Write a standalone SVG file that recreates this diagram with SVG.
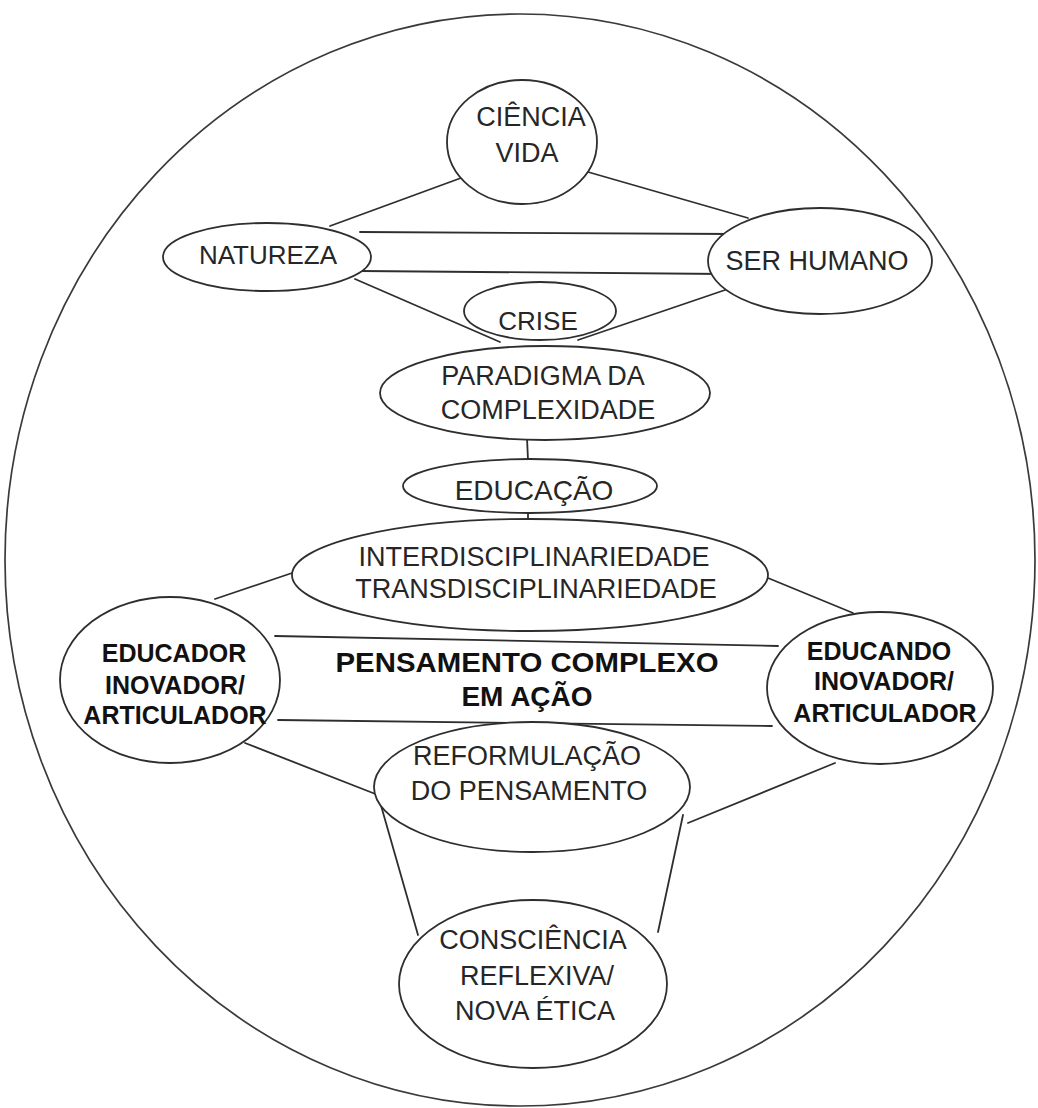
<svg xmlns="http://www.w3.org/2000/svg" width="1038" height="1108" viewBox="0 0 1038 1108">
  <style>
    .frame { fill: #ffffff; stroke: #3a3a3a; stroke-width: 1.7; }
    .node ellipse { fill: #ffffff; stroke: #2e2e2e; stroke-width: 1.8; }
    .edges line { stroke: #2e2e2e; stroke-width: 1.8; stroke-linecap: round; }
    .lbl { font-family: "Liberation Sans", Arial, sans-serif; font-size: 27px; fill: #262626; text-anchor: middle; }
    .bold { font-family: "Liberation Sans", Arial, sans-serif; font-weight: bold; fill: #111111; text-anchor: middle; }
  </style>

  <rect width="1038" height="1108" fill="#ffffff"/>

  <!-- outer boundary -->
  <ellipse class="frame" cx="520" cy="560" rx="515" ry="546"/>

  <!-- connectors -->
  <g id="connectors" class="edges">
    <line x1="461" y1="178" x2="330" y2="226"/>
    <line x1="588" y1="172" x2="748" y2="218"/>
    <line x1="360" y1="232" x2="735" y2="234"/>
    <line x1="360" y1="271" x2="725" y2="274"/>
    <line x1="355" y1="279" x2="500" y2="342"/>
    <line x1="728" y1="289" x2="578" y2="340"/>
    <line x1="527" y1="438" x2="528" y2="460"/>
    <line x1="528" y1="512" x2="528" y2="522"/>
    <line x1="295" y1="572" x2="215" y2="599"/>
    <line x1="768" y1="578" x2="853" y2="613"/>
    <line x1="275" y1="636" x2="778" y2="646"/>
    <line x1="278" y1="720" x2="772" y2="726"/>
    <line x1="245" y1="743" x2="378" y2="795"/>
    <line x1="835" y1="763" x2="688" y2="823"/>
    <line x1="378" y1="795" x2="418" y2="935"/>
    <line x1="683" y1="815" x2="658" y2="932"/>
  </g>

  <g id="ciencia-vida" class="node">
    <ellipse cx="522" cy="142" rx="75" ry="62"/>
    <text class="lbl" font-size="26" x="531" y="126">CIÊNCIA</text>
    <text class="lbl" font-size="26" x="527" y="162">VIDA</text>
  </g>

  <g id="natureza" class="node">
    <ellipse cx="267" cy="257" rx="104" ry="34"/>
    <text class="lbl" style="font-size:26px" x="268" y="264">NATUREZA</text>
  </g>

  <g id="ser-humano" class="node">
    <ellipse cx="820" cy="261" rx="112" ry="53"/>
    <text class="lbl" x="817" y="270">SER HUMANO</text>
  </g>

  <g id="crise" class="node">
    <ellipse cx="540" cy="311" rx="76" ry="29"/>
    <text class="lbl" style="font-size:26px" x="538" y="330">CRISE</text>
  </g>

  <g id="paradigma" class="node">
    <ellipse cx="545" cy="393" rx="165" ry="47"/>
    <text class="lbl" x="543" y="385">PARADIGMA DA</text>
    <text class="lbl" x="548" y="419">COMPLEXIDADE</text>
  </g>

  <g id="educacao" class="node">
    <ellipse cx="530" cy="486" rx="127" ry="27"/>
    <text class="lbl" style="font-size:28px" x="534" y="500">EDUCAÇÃO</text>
  </g>

  <g id="inter-trans" class="node">
    <ellipse cx="530" cy="575" rx="238" ry="56"/>
    <text class="lbl" x="534" y="566">INTERDISCIPLINARIEDADE</text>
    <text class="lbl" x="536" y="598">TRANSDISCIPLINARIEDADE</text>
  </g>

  <g id="educador" class="node">
    <ellipse cx="170" cy="680" rx="110" ry="83"/>
    <text class="bold" font-size="25" x="174" y="662">EDUCADOR</text>
    <text class="bold" font-size="25" x="175" y="694">INOVADOR/</text>
    <text class="bold" font-size="25" x="175" y="724">ARTICULADOR</text>
  </g>

  <g id="educando" class="node">
    <ellipse cx="880" cy="688" rx="113" ry="76"/>
    <text class="bold" font-size="25" x="879" y="660">EDUCANDO</text>
    <text class="bold" font-size="25" x="884" y="690">INOVADOR/</text>
    <text class="bold" font-size="25" x="885" y="722">ARTICULADOR</text>
  </g>

  <g id="pensamento-complexo">
    <text class="bold" font-size="28" x="527" y="672" textLength="383" lengthAdjust="spacingAndGlyphs">PENSAMENTO COMPLEXO</text>
    <text class="bold" font-size="28" x="527" y="706">EM AÇÃO</text>
  </g>

  <g id="reformulacao" class="node">
    <ellipse cx="532" cy="787" rx="158" ry="65"/>
    <text class="lbl" x="527" y="765">REFORMULAÇÃO</text>
    <text class="lbl" x="529" y="800">DO PENSAMENTO</text>
  </g>

  <g id="consciencia" class="node">
    <ellipse cx="533" cy="984" rx="134" ry="84"/>
    <text class="lbl" x="533" y="949">CONSCIÊNCIA</text>
    <text class="lbl" x="537" y="985">REFLEXIVA/</text>
    <text class="lbl" x="535" y="1020">NOVA ÉTICA</text>
  </g>
</svg>
